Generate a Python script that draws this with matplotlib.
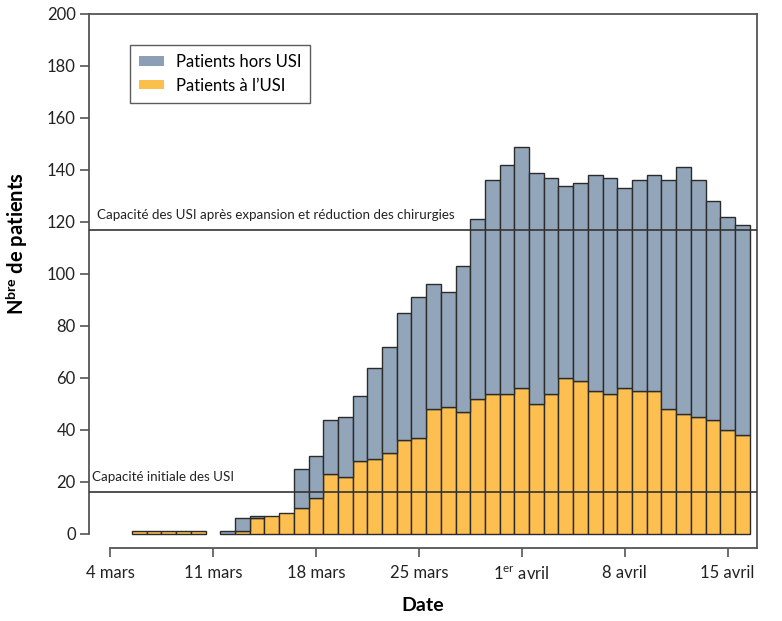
import numpy as np
import pandas as pd
import matplotlib
matplotlib.use("Agg")
import matplotlib.pyplot as plt
from matplotlib.patches import Patch

plt.rcParams['font.family'] = ['Lato', 'DejaVu Sans']
plt.rcParams['mathtext.fontset'] = 'custom'
plt.rcParams['mathtext.rm'] = 'Lato'
plt.rcParams['mathtext.bf'] = 'Lato:bold'

# daily counts, 6 mars -> 16 avril 2020
dates = pd.date_range('2020-03-06', '2020-04-16')
icu = [1, 1, 1, 1, 1, 0, 0, 1, 6, 7, 8, 10, 14, 23, 22, 28, 29, 31, 36, 37,
       48, 49, 47, 52, 54, 54, 56, 50, 54, 60, 59, 55, 54, 56, 55, 55, 48, 46,
       45, 44, 40, 38]
total = [1, 1, 1, 1, 1, 0, 1, 6, 7, 7, 8, 25, 30, 44, 45, 53, 64, 72, 85, 91,
         96, 93, 103, 121, 136, 142, 149, 139, 137, 134, 135, 138, 137, 133, 136,
         138, 136, 141, 136, 128, 122, 119]

cap_initial = 16
cap_expanded = 117

tick_dates = pd.to_datetime(['2020-03-04', '2020-03-11', '2020-03-18', '2020-03-25',
                             '2020-04-01', '2020-04-08', '2020-04-15'])
tick_labels = ['4 mars', '11 mars', '18 mars', '25 mars',
               r'1$^{\mathregular{er}}$ avril', '8 avril', '15 avril']

c_icu = '#fdbf4f'
c_non = '#93a6b9'
c_edge = '#2b2b2b'
c_spine = '#555555'

origin = pd.Timestamp('2020-03-04')
x = np.array((dates - origin).days, dtype=float)
icu = np.array(icu)
non = np.array(total) - icu

fig = plt.figure(figsize=(7.82, 6.21), dpi=100)
ax = fig.add_axes([0.1138, 0.1176, 0.8542, 0.8599])

m1 = icu > 0
ax.bar(x[m1], icu[m1], width=1.0, color=c_icu, edgecolor=c_edge, linewidth=1.0, zorder=2)
m2 = non > 0
ax.bar(x[m2], non[m2], bottom=icu[m2], width=1.0, color=c_non, edgecolor=c_edge,
       linewidth=1.0, zorder=2)

ax.axhline(cap_expanded, color='#333333', lw=1.2, zorder=3)
ax.axhline(cap_initial, color='#333333', lw=1.2, zorder=3)
ax.text(-0.88, cap_expanded + 3.5, 'Capacité des USI après expansion et réduction des chirurgies',
        fontsize=9.6, color='#222222', va='bottom', ha='left')
ax.text(-1.2, cap_initial + 3.5, 'Capacité initiale des USI',
        fontsize=9.6, color='#222222', va='bottom', ha='left')

ax.set_xlim(-1.43, 44.0)
ax.set_ylim(-5.4, 200)

ax.set_xticks((tick_dates - origin).days)
ax.set_xticklabels(tick_labels)
ax.set_yticks(range(0, 201, 20))
ax.tick_params(axis='both', direction='out', length=6.5, width=1.2, color=c_spine,
               labelsize=12, labelcolor='#222222', pad=3)
ax.tick_params(axis='x', pad=6)

for s in ax.spines.values():
    s.set_color(c_spine)
    s.set_linewidth(1.3)
ax.spines['left'].set_bounds(0, 200)
ax.spines['bottom'].set_bounds(0, 44.0)

ax.set_xlabel('Date', fontsize=14, fontweight='bold', labelpad=10)
ax.set_ylabel(r'$\mathbf{N^{bre}}$ de patients', fontsize=14.5, fontweight='bold')
ax.yaxis.set_label_coords(-0.088, 0.571)

handles = [Patch(facecolor='#8c9fb6', edgecolor='none', label='Patients hors USI'),
           Patch(facecolor='#fbbf4c', edgecolor='none', label='Patients à l\u2019USI')]
leg = ax.legend(handles=handles, loc='upper left', bbox_to_anchor=(0.061, 0.942),
                borderaxespad=0, fontsize=12, frameon=True, fancybox=False,
                handlelength=1.5, handleheight=0.5, borderpad=0.55, labelspacing=0.45,
                handletextpad=0.7)
leg.get_frame().set_edgecolor('#333333')
leg.get_frame().set_linewidth(1.0)

fig.savefig('out.png', dpi=100)
